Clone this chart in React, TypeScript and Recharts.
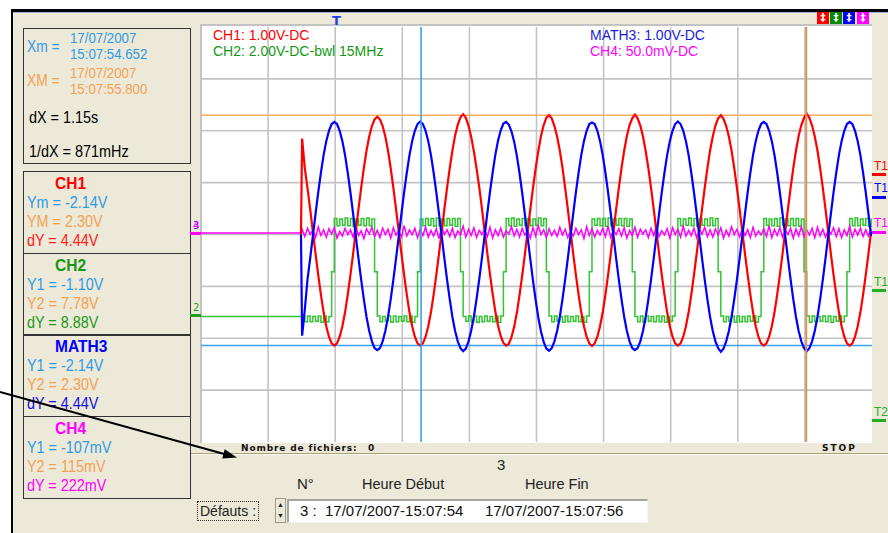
import React from "react";
import {
  LineChart,
  Line,
  XAxis,
  YAxis,
  CartesianGrid,
  ReferenceLine,
} from "recharts";

// Scope screen is 10 divisions across and 8 down (centre = 0).
const timeDomain = [0, 10];
const levelDomain = [-4, 4];
const gridTimes = [1, 2, 3, 4, 5, 6, 7, 8, 9];
const gridLevels = [-3, -2, -1, 0, 1, 2, 3];

// acquisition: traces start at 1.49 div, one sample every 0.04 div
const TRACE_START = 1.49;
const SAMPLE_T0 = 1.507;
const SAMPLE_DT = 0.04;

// resting levels before the acquisition starts (div)
const ch2Idle = -1.58;
const ch4Idle = 0.03;

// cursors: Xm / XM (time, div) and YM / Ym of CH1 (div)
const cursorTimes = [3.28, 9.02];
const cursorLevels = [2.3, -2.14];

// CH1 (red), 1.00 V/div
const ch1 = [
  1.85, 1.28, 0.90, 0.49, 0.06, -0.37, -0.78, -1.16,
  -1.50, -1.77, -1.97, -2.10, -2.14, -2.10, -1.97, -1.77,
  -1.50, -1.16, -0.78, -0.37, 0.06, 0.49, 0.90, 1.28,
  1.62, 1.89, 2.09, 2.22,
  2.27, 2.22, 2.09, 1.89, 1.62, 1.28, 0.90, 0.49,
  0.06, -0.37, -0.78, -1.16, -1.50, -1.77, -1.97, -2.10,
  -2.14, -2.10, -1.97, -1.77, -1.50, -1.16, -0.78, -0.37,
  0.06, 0.49, 0.90, 1.28, 1.62, 1.91, 2.12, 2.26,
  2.32, 2.25, 2.10, 1.88, 1.60, 1.27, 0.91, 0.50,
  0.07, -0.36, -0.77, -1.15, -1.49, -1.76, -1.96, -2.09,
  -2.14, -2.11, -1.98, -1.78, -1.51, -1.17, -0.79, -0.38,
  0.05, 0.48, 0.89, 1.27, 1.61, 1.90, 2.11, 2.25,
  2.30, 2.24, 2.09, 1.89, 1.62, 1.29, 0.90, 0.49,
  0.06, -0.37, -0.78, -1.16, -1.50, -1.77, -1.97, -2.10,
  -2.15, -2.10, -1.97, -1.77, -1.50, -1.16, -0.78, -0.37,
  0.06, 0.49, 0.90, 1.28, 1.62, 1.90, 2.11, 2.24,
  2.31, 2.24, 2.10, 1.89, 1.61, 1.28, 0.90, 0.49,
  0.06, -0.37, -0.78, -1.16, -1.50, -1.77, -1.97, -2.10,
  -2.14, -2.10, -1.97, -1.77, -1.50, -1.16, -0.78, -0.37,
  0.06, 0.49, 0.90, 1.28, 1.62, 1.89, 2.10, 2.24,
  2.30, 2.23, 2.09, 1.89, 1.62, 1.28, 0.90, 0.49,
  0.06, -0.37, -0.78, -1.16, -1.50, -1.77, -1.97, -2.10,
  -2.14, -2.10, -1.97, -1.77, -1.50, -1.16, -0.78, -0.37,
  0.06, 0.49, 0.90, 1.28, 1.62, 1.90, 2.11, 2.25,
  2.33, 2.25, 2.10, 1.89, 1.62, 1.28, 0.90, 0.49,
  0.06, -0.37, -0.78, -1.16, -1.50, -1.77, -1.97, -2.10,
  -2.14, -2.10, -1.97, -1.77, -1.50, -1.16, -0.78, -0.37,
  0.06,
];

// MATH3 (blue), 1.00 V/div
const math3 = [
  -1.95, -1.45, -0.87, -0.46, -0.03, 0.40, 0.81, 1.19,
  1.53, 1.80, 2.00, 2.13, 2.17, 2.13, 2.00, 1.80,
  1.53, 1.19, 0.81, 0.40, -0.03, -0.46, -0.87, -1.25,
  -1.59, -1.86, -2.06, -2.19,
  -2.23, -2.19, -2.06, -1.86, -1.59, -1.25, -0.87, -0.46,
  -0.03, 0.40, 0.81, 1.19, 1.53, 1.80, 2.00, 2.13,
  2.18, 2.13, 2.00, 1.80, 1.53, 1.19, 0.81, 0.40,
  -0.03, -0.46, -0.87, -1.25, -1.59, -1.86, -2.06, -2.19,
  -2.25, -2.20, -2.06, -1.85, -1.58, -1.24, -0.86, -0.45,
  -0.02, 0.41, 0.82, 1.20, 1.54, 1.81, 2.01, 2.14,
  2.17, 2.12, 1.99, 1.79, 1.52, 1.18, 0.80, 0.39,
  -0.04, -0.47, -0.88, -1.26, -1.60, -1.87, -2.07, -2.20,
  -2.24, -2.19, -2.06, -1.86, -1.59, -1.25, -0.87, -0.46,
  -0.03, 0.40, 0.81, 1.19, 1.53, 1.80, 2.00, 2.13,
  2.16, 2.13, 2.00, 1.80, 1.53, 1.19, 0.81, 0.40,
  -0.03, -0.46, -0.87, -1.25, -1.59, -1.86, -2.06, -2.19,
  -2.23, -2.19, -2.06, -1.86, -1.59, -1.25, -0.87, -0.46,
  -0.03, 0.40, 0.81, 1.19, 1.53, 1.80, 2.00, 2.13,
  2.18, 2.13, 2.00, 1.80, 1.53, 1.19, 0.81, 0.40,
  -0.03, -0.46, -0.87, -1.25, -1.59, -1.86, -2.06, -2.19,
  -2.26, -2.20, -2.06, -1.86, -1.59, -1.25, -0.87, -0.46,
  -0.03, 0.40, 0.81, 1.19, 1.53, 1.80, 2.00, 2.13,
  2.17, 2.13, 2.00, 1.80, 1.53, 1.19, 0.81, 0.40,
  -0.03, -0.46, -0.87, -1.25, -1.59, -1.86, -2.06, -2.19,
  -2.25, -2.19, -2.06, -1.86, -1.59, -1.25, -0.87, -0.46,
  -0.03, 0.40, 0.81, 1.19, 1.53, 1.80, 2.00, 2.13,
  2.17, 2.13, 2.00, 1.80, 1.53, 1.19, 0.81, 0.40,
  -0.03,
];

// CH2 (green), 2.00 V/div, bwl 15MHz - square wave with comb noise
const ch2 = [
  -1.57, -1.68, -1.57, -1.68, -1.58, -1.67, -1.57, -1.69, -1.57, -1.68, -1.58,
  -0.72,
  0.31, 0.17, 0.30, 0.18, 0.32, 0.17, 0.31, 0.16, 0.30, 0.18, 0.31, 0.17, 0.32, 0.17, 0.30,
  -0.72,
  -1.57, -1.68, -1.58, -1.67, -1.57, -1.69, -1.57, -1.68, -1.58, -1.67, -1.57, -1.68, -1.57, -1.69, -1.58,
  -0.72,
  0.30, 0.17, 0.31, 0.18, 0.31, 0.16, 0.32, 0.17, 0.30, 0.17, 0.31, 0.18, 0.31, 0.16, 0.31,
  -0.72,
  -1.58, -1.67, -1.57, -1.68, -1.57, -1.69, -1.58, -1.68, -1.57, -1.67, -1.58, -1.68, -1.57, -1.69, -1.57,
  -0.72,
  0.31, 0.17, 0.32, 0.16, 0.30, 0.18, 0.31, 0.17, 0.31, 0.17, 0.30, 0.18, 0.32, 0.17, 0.31,
  -0.72,
  -1.57, -1.68, -1.57, -1.67, -1.58, -1.69, -1.57, -1.68, -1.58, -1.67, -1.57, -1.68, -1.58, -1.69, -1.57,
  -0.72,
  0.30, 0.18, 0.31, 0.17, 0.31, 0.16, 0.32, 0.17, 0.30, 0.18, 0.31, 0.17, 0.31, 0.16, 0.30,
  -0.72,
  -1.58, -1.68, -1.57, -1.69, -1.57, -1.67, -1.58, -1.68, -1.57, -1.68, -1.57, -1.69, -1.58, -1.67, -1.57,
  -0.72,
  0.31, 0.17, 0.30, 0.18, 0.32, 0.17, 0.31, 0.16, 0.31, 0.18, 0.30, 0.17, 0.32, 0.17, 0.31,
  -0.72,
  -1.57, -1.68, -1.58, -1.67, -1.57, -1.69, -1.57, -1.68, -1.58, -1.68, -1.57, -1.67, -1.57, -1.69, -1.58,
  -0.72,
  0.31, 0.18, 0.30, 0.17, 0.31, 0.16, 0.32, 0.18, 0.30, 0.17, 0.31, 0.17, 0.31, 0.16, 0.30,
  -0.72,
  -1.57, -1.69, -1.57, -1.68, -1.58, -1.67, -1.57, -1.68, -1.57, -1.69, -1.58, -1.67, -1.57, -1.68, -1.57,
  -0.72,
  0.31, 0.17, 0.32, 0.17, 0.30, 0.18, 0.31, 0.16, 0.31,
];

// CH4 (magenta), 50.0 mV/div - noisy flat line
const ch4 = [
  0.10, -0.04, 0.12, 0.00, 0.08, -0.06, 0.15, -0.02, 0.09, -0.05, 0.11, 0.01, 0.13, -0.07, 0.06, -0.03,
  0.12, 0.00, 0.09, -0.05, 0.16, -0.02, 0.07, -0.08, 0.11, 0.01, 0.14, -0.04, 0.08, -0.06, 0.12, 0.00,
  0.10, -0.07, 0.13, -0.01, 0.07, -0.05, 0.17, -0.03, 0.09, 0.00, 0.12, -0.06, 0.10, -0.02, 0.14, -0.05,
  0.08, -0.03, 0.11, -0.08, 0.15, 0.00, 0.09, -0.04, 0.12, -0.06, 0.07, -0.01, 0.16, -0.05, 0.10, -0.02,
  0.13, -0.06, 0.08, 0.00, 0.11, -0.04, 0.14, -0.07, 0.09, -0.02, 0.12, -0.05, 0.07, 0.01, 0.15, -0.03,
  0.10, -0.05, 0.12, -0.01, 0.08, -0.07, 0.13, -0.03, 0.17, 0.00, 0.09, -0.06, 0.11, -0.02, 0.08, -0.04,
  0.14, -0.01, 0.10, -0.06, 0.07, -0.03, 0.12, 0.00, 0.09, -0.08, 0.15, -0.02, 0.11, -0.05, 0.08, -0.01,
  0.12, -0.04, 0.16, -0.06, 0.09, 0.00, 0.11, -0.03, 0.13, -0.07, 0.08, -0.02, 0.14, -0.05, 0.10, 0.01,
  0.09, -0.06, 0.12, -0.02, 0.15, -0.04, 0.07, -0.01, 0.11, -0.07, 0.13, 0.00, 0.10, -0.05, 0.16, -0.03,
  0.08, -0.02, 0.12, -0.06, 0.10, 0.01, 0.14, -0.04, 0.09, -0.05, 0.11, -0.01, 0.13, -0.07, 0.08, -0.03,
  0.15, 0.00, 0.10, -0.05, 0.12, -0.02, 0.09, -0.06, 0.14, -0.03, 0.07, -0.01, 0.11, -0.04, 0.17, -0.06,
  0.10, -0.02, 0.13, -0.05, 0.08, 0.00, 0.12, -0.07, 0.11, -0.03, 0.15, -0.04, 0.09, -0.01, 0.12, -0.06,
  0.14, -0.03, 0.10, -0.05, 0.08, 0.01, 0.13, -0.04, 0.11, -0.06, 0.09, -0.02, 0.16, -0.05, 0.10, -0.01,
  0.12, -0.04, 0.09, -0.03, 0.11,
];

const data = [
  { t: 0, ch2: ch2Idle, ch4: ch4Idle },
  { t: TRACE_START, ch1: 0, math3: 0, ch2: ch2Idle, ch4: ch4Idle },
  ...ch1.map((v, i) => ({
    t: Math.round((SAMPLE_T0 + i * SAMPLE_DT) * 1000) / 1000,
    ch1: v,
    math3: math3[i],
    ch2: ch2[i],
    ch4: ch4[i],
  })),
];

const BEIGE = "#ece9d8";
const CYAN = "#2f9ae8";
const ORANGE = "#f5a153";
const SANS = "'Liberation Sans', Arial, sans-serif";

type TxtProps = {
  x: number;
  y: number;
  size?: number;
  color?: string;
  sx?: number;
  bold?: boolean;
  family?: string;
  spacing?: number;
  children: React.ReactNode;
};

// y is the vertical centre of the capitals; tight line box so stacked lines don't collide
function Txt({ x, y, size = 16, color = "#000", sx = 1, bold, family, spacing, children }: TxtProps) {
  const lh = 0.86;
  return (
    <span
      style={{
        position: "absolute",
        left: x,
        top: y - size * (lh / 2 - 0.0115),
        fontSize: size,
        lineHeight: lh,
        color,
        fontWeight: bold ? 700 : 400,
        fontFamily: family ?? SANS,
        letterSpacing: spacing,
        whiteSpace: "nowrap",
        transform: sx !== 1 ? `scaleX(${sx})` : undefined,
        transformOrigin: "left center",
      }}
    >
      {children}
    </span>
  );
}

const box = (left: number, top: number, width: number, height: number): React.CSSProperties => ({
  position: "absolute",
  left,
  top,
  width,
  height,
  boxSizing: "border-box",
  border: "1.5px solid #333",
});

const hr = (top: number): React.CSSProperties => ({
  position: "absolute",
  left: 23,
  top,
  width: 168,
  height: 1.5,
  background: "#333",
});

const channelBlocks = [
  {
    title: "CH1", titleColor: "#ff0000", y: 184,
    rows: [["Ym = -2.14V", CYAN], ["YM = 2.30V", ORANGE], ["dY = 4.44V", "#ff2020"]],
  },
  {
    title: "CH2", titleColor: "#169616", y: 266,
    rows: [["Y1 = -1.10V", CYAN], ["Y2 = 7.78V", ORANGE], ["dY = 8.88V", "#1a9a1a"]],
  },
  {
    title: "MATH3", titleColor: "#0000ff", y: 347,
    rows: [["Y1 = -2.14V", CYAN], ["Y2 = 2.30V", ORANGE], ["dY = 4.44V", "#1010e0"]],
  },
  {
    title: "CH4", titleColor: "#ff00ff", y: 429,
    rows: [["Y1 = -107mV", CYAN], ["Y2 = 115mV", ORANGE], ["dY = 222mV", "#ff00ff"]],
  },
];

const rightMarkers = [
  { label: "T1", color: "#ff0000", textY: 166, barY: 173 },
  { label: "T1", color: "#0000ff", textY: 188, barY: 196 },
  { label: "T1", color: "#ff00ff", textY: 223, barY: 231 },
  { label: "T1", color: "#20b020", textY: 282, barY: 289 },
  { label: "T2", color: "#20b020", textY: 412, barY: 419 },
];

const topIcons = [
  { color: "#ff0000", x: 817 },
  { color: "#008a00", x: 830 },
  { color: "#0000ff", x: 843 },
  { color: "#ff00ff", x: 857 },
];

export default function App() {
  return (
    <div
      style={{
        position: "absolute",
        left: 0,
        top: 0,
        width: 888,
        height: 533,
        background: "#fff",
        overflow: "hidden",
        fontFamily: SANS,
      }}
    >
      {/* window body */}
      <div style={{ position: "absolute", left: 13, top: 11, width: 875, height: 522, background: BEIGE }} />
      <div style={{ position: "absolute", left: 11, top: 9, width: 877, height: 2.5, background: "#000" }} />
      <div style={{ position: "absolute", left: 13, top: 11.5, width: 875, height: 1, background: "#9fb3d6" }} />
      <div style={{ position: "absolute", left: 11, top: 9, width: 2, height: 524, background: "#000" }} />

      {/* cursor readouts */}
      <div style={box(23, 28, 168, 136)} />
      <Txt x={27} y={47} color={CYAN} sx={0.86}>Xm =</Txt>
      <Txt x={70} y={38.5} size={13.8} color={CYAN} sx={0.96}>17/07/2007</Txt>
      <Txt x={70} y={54.5} size={13.8} color={CYAN} sx={0.96}>15:07:54.652</Txt>
      <Txt x={27} y={81} color={ORANGE} sx={0.86}>XM =</Txt>
      <Txt x={70} y={73.5} size={13.8} color={ORANGE} sx={0.96}>17/07/2007</Txt>
      <Txt x={70} y={89.5} size={13.8} color={ORANGE} sx={0.96}>15:07:55.800</Txt>
      <Txt x={29} y={118} sx={0.9}>dX = 1.15s</Txt>
      <Txt x={29} y={152} sx={0.9}>1/dX = 871mHz</Txt>

      <div style={box(23, 171, 168, 327.5)} />
      <div style={hr(252.5)} />
      <div style={hr(334)} />
      <div style={hr(415.5)} />
      {channelBlocks.map((b) => (
        <React.Fragment key={b.title}>
          <Txt x={55} y={b.y} color={b.titleColor} bold sx={0.97}>{b.title}</Txt>
          {b.rows.map(([label, color], i) => (
            <Txt key={label} x={27} y={b.y + 19 + i * 18.7} color={color} sx={0.9}>{label}</Txt>
          ))}
        </React.Fragment>
      ))}

      {/* plot area */}
      <div
        style={{
          position: "absolute",
          left: 200,
          top: 24,
          width: 672,
          height: 419,
          background: "#fff",
          boxSizing: "border-box",
          borderTop: "2px solid #c3c3c3",
          borderLeft: "2px solid #c3c3c3",
        }}
      />
      <div style={{ position: "absolute", left: 201, top: 27 }}>
        <LineChart width={671} height={415} data={data} margin={{ top: 0, right: 0, bottom: 0, left: 0 }}>
          <XAxis type="number" dataKey="t" domain={timeDomain} ticks={gridTimes} allowDataOverflow hide />
          <YAxis type="number" domain={levelDomain} ticks={gridLevels} allowDataOverflow hide />
          <CartesianGrid
            stroke="#c3c3c3"
            strokeWidth={1.6}
            horizontalValues={gridLevels}
            verticalValues={gridTimes}
          />
          <ReferenceLine y={cursorLevels[0]} stroke="#ffac5c" strokeWidth={1.6} />
          <ReferenceLine y={cursorLevels[1]} stroke="#3aa2f0" strokeWidth={1.6} />
          <Line
            type="stepAfter"
            dataKey="ch2"
            stroke="#33c433"
            strokeWidth={1.5}
            dot={false}
            activeDot={false}
            isAnimationActive={false}
          />
          <Line
            type="linear"
            dataKey="ch4"
            stroke="#ff00ff"
            strokeWidth={1.5}
            dot={false}
            activeDot={false}
            isAnimationActive={false}
          />
          <Line
            type="linear"
            dataKey="ch1"
            stroke="#ff0000"
            strokeWidth={2.2}
            dot={false}
            activeDot={false}
            isAnimationActive={false}
          />
          <Line
            type="linear"
            dataKey="math3"
            stroke="#0000ff"
            strokeWidth={2.2}
            dot={false}
            activeDot={false}
            isAnimationActive={false}
          />
          <ReferenceLine x={cursorTimes[0]} stroke="#3aa2f0" strokeWidth={1.6} />
          <ReferenceLine x={cursorTimes[1]} stroke="#d99458" strokeWidth={2} />
        </LineChart>
      </div>

      {/* channel captions */}
      <Txt x={213} y={35} size={14} color="#ff0000">CH1: 1.00V-DC</Txt>
      <Txt x={213} y={50.5} size={14} color="#119a11">CH2: 2.00V-DC-bwl 15MHz</Txt>
      <Txt x={590} y={35} size={14} color="#1c1cd8">MATH3: 1.00V-DC</Txt>
      <Txt x={590} y={50.5} size={14} color="#ff00ff">CH4: 50.0mV-DC</Txt>

      {/* trigger marker + channel icons */}
      <Txt x={332} y={20} size={13} bold color="#1f3fe0" family="'DejaVu Sans', sans-serif">T</Txt>
      {topIcons.map((ic) => (
        <div
          key={ic.x}
          style={{
            position: "absolute",
            left: ic.x,
            top: 12,
            width: 12,
            height: 12,
            background: ic.color,
            color: "#fff",
            fontSize: 10,
            fontWeight: 700,
            lineHeight: "12px",
            textAlign: "center",
            fontFamily: "'DejaVu Sans', sans-serif",
          }}
        >
          ‡
        </div>
      ))}

      {/* ground markers on the left */}
      <div style={{ position: "absolute", left: 190, top: 232, width: 11, height: 3, background: "#ff00ff" }} />
      <Txt x={193} y={226} size={10} color="#3030ff" family="'DejaVu Sans', sans-serif">3</Txt>
      <Txt x={193} y={226} size={10} color="#ff00ff" family="'DejaVu Sans', sans-serif">4</Txt>
      <div style={{ position: "absolute", left: 190, top: 314, width: 11, height: 3, background: "#20a020" }} />
      <Txt x={193} y={308} size={10} color="#20a020" family="'DejaVu Sans', sans-serif">2</Txt>

      {/* trigger level markers on the right */}
      {rightMarkers.map((m, i) => (
        <React.Fragment key={i}>
          <Txt x={874} y={m.textY} size={12} color={m.color}>{m.label}</Txt>
          <div style={{ position: "absolute", left: 872, top: m.barY, width: 14, height: 3, background: m.color }} />
        </React.Fragment>
      ))}

      {/* status strip */}
      <Txt x={241} y={449} size={9} bold spacing={0.85} color="#111" family="'DejaVu Sans', sans-serif">
        Nombre de fichiers:
      </Txt>
      <Txt x={368} y={449} size={9} bold color="#111" family="'DejaVu Sans', sans-serif">0</Txt>
      <Txt x={822} y={449} size={9} bold spacing={2} color="#111" family="'DejaVu Sans', sans-serif">STOP</Txt>
      <div style={{ position: "absolute", left: 191, top: 453, width: 697, height: 1, background: "#aa9f78" }} />
      <div style={{ position: "absolute", left: 191, top: 454, width: 697, height: 1, background: "#fbfaf4" }} />

      {/* file selector */}
      <Txt x={497} y={465} size={15} color="#222">3</Txt>
      <Txt x={297} y={484} size={15} color="#222">N°</Txt>
      <Txt x={362} y={484} size={14.5} color="#222">Heure Début</Txt>
      <Txt x={525} y={484} size={14.5} color="#222">Heure Fin</Txt>
      <div
        style={{
          position: "absolute",
          left: 197,
          top: 501,
          width: 62,
          height: 20,
          boxSizing: "border-box",
          border: "1px dotted #333",
        }}
      />
      <Txt x={200} y={511} size={14} color="#222">Défauts :</Txt>
      <div
        style={{
          position: "absolute",
          left: 275,
          top: 498,
          width: 11,
          height: 25,
          background: BEIGE,
          boxSizing: "border-box",
          border: "1px solid #9c9a8c",
          fontSize: 7,
          lineHeight: "11px",
          textAlign: "center",
          color: "#222",
        }}
      >
        ▲<br />▼
      </div>
      <div
        style={{
          position: "absolute",
          left: 287,
          top: 499,
          width: 361,
          height: 24,
          background: "#fff",
          boxSizing: "border-box",
          borderTop: "2px solid #a7a59a",
          borderLeft: "2px solid #a7a59a",
          borderBottom: "1px solid #f4f3ee",
          borderRight: "1px solid #f4f3ee",
        }}
      />
      <Txt x={300} y={511} size={15} color="#111">3 :</Txt>
      <Txt x={325} y={511} size={15} color="#111">17/07/2007-15:07:54</Txt>
      <Txt x={485} y={511} size={15} color="#111">17/07/2007-15:07:56</Txt>

      {/* annotation arrow */}
      <svg width={888} height={533} style={{ position: "absolute", left: 0, top: 0, pointerEvents: "none" }}>
        <line x1={0} y1={392} x2={226} y2={454.5} stroke="#000" strokeWidth={2} />
        <polygon points="237,457.5 222.3,458.4 224.7,449.3" fill="#000" />
      </svg>
    </div>
  );
}
